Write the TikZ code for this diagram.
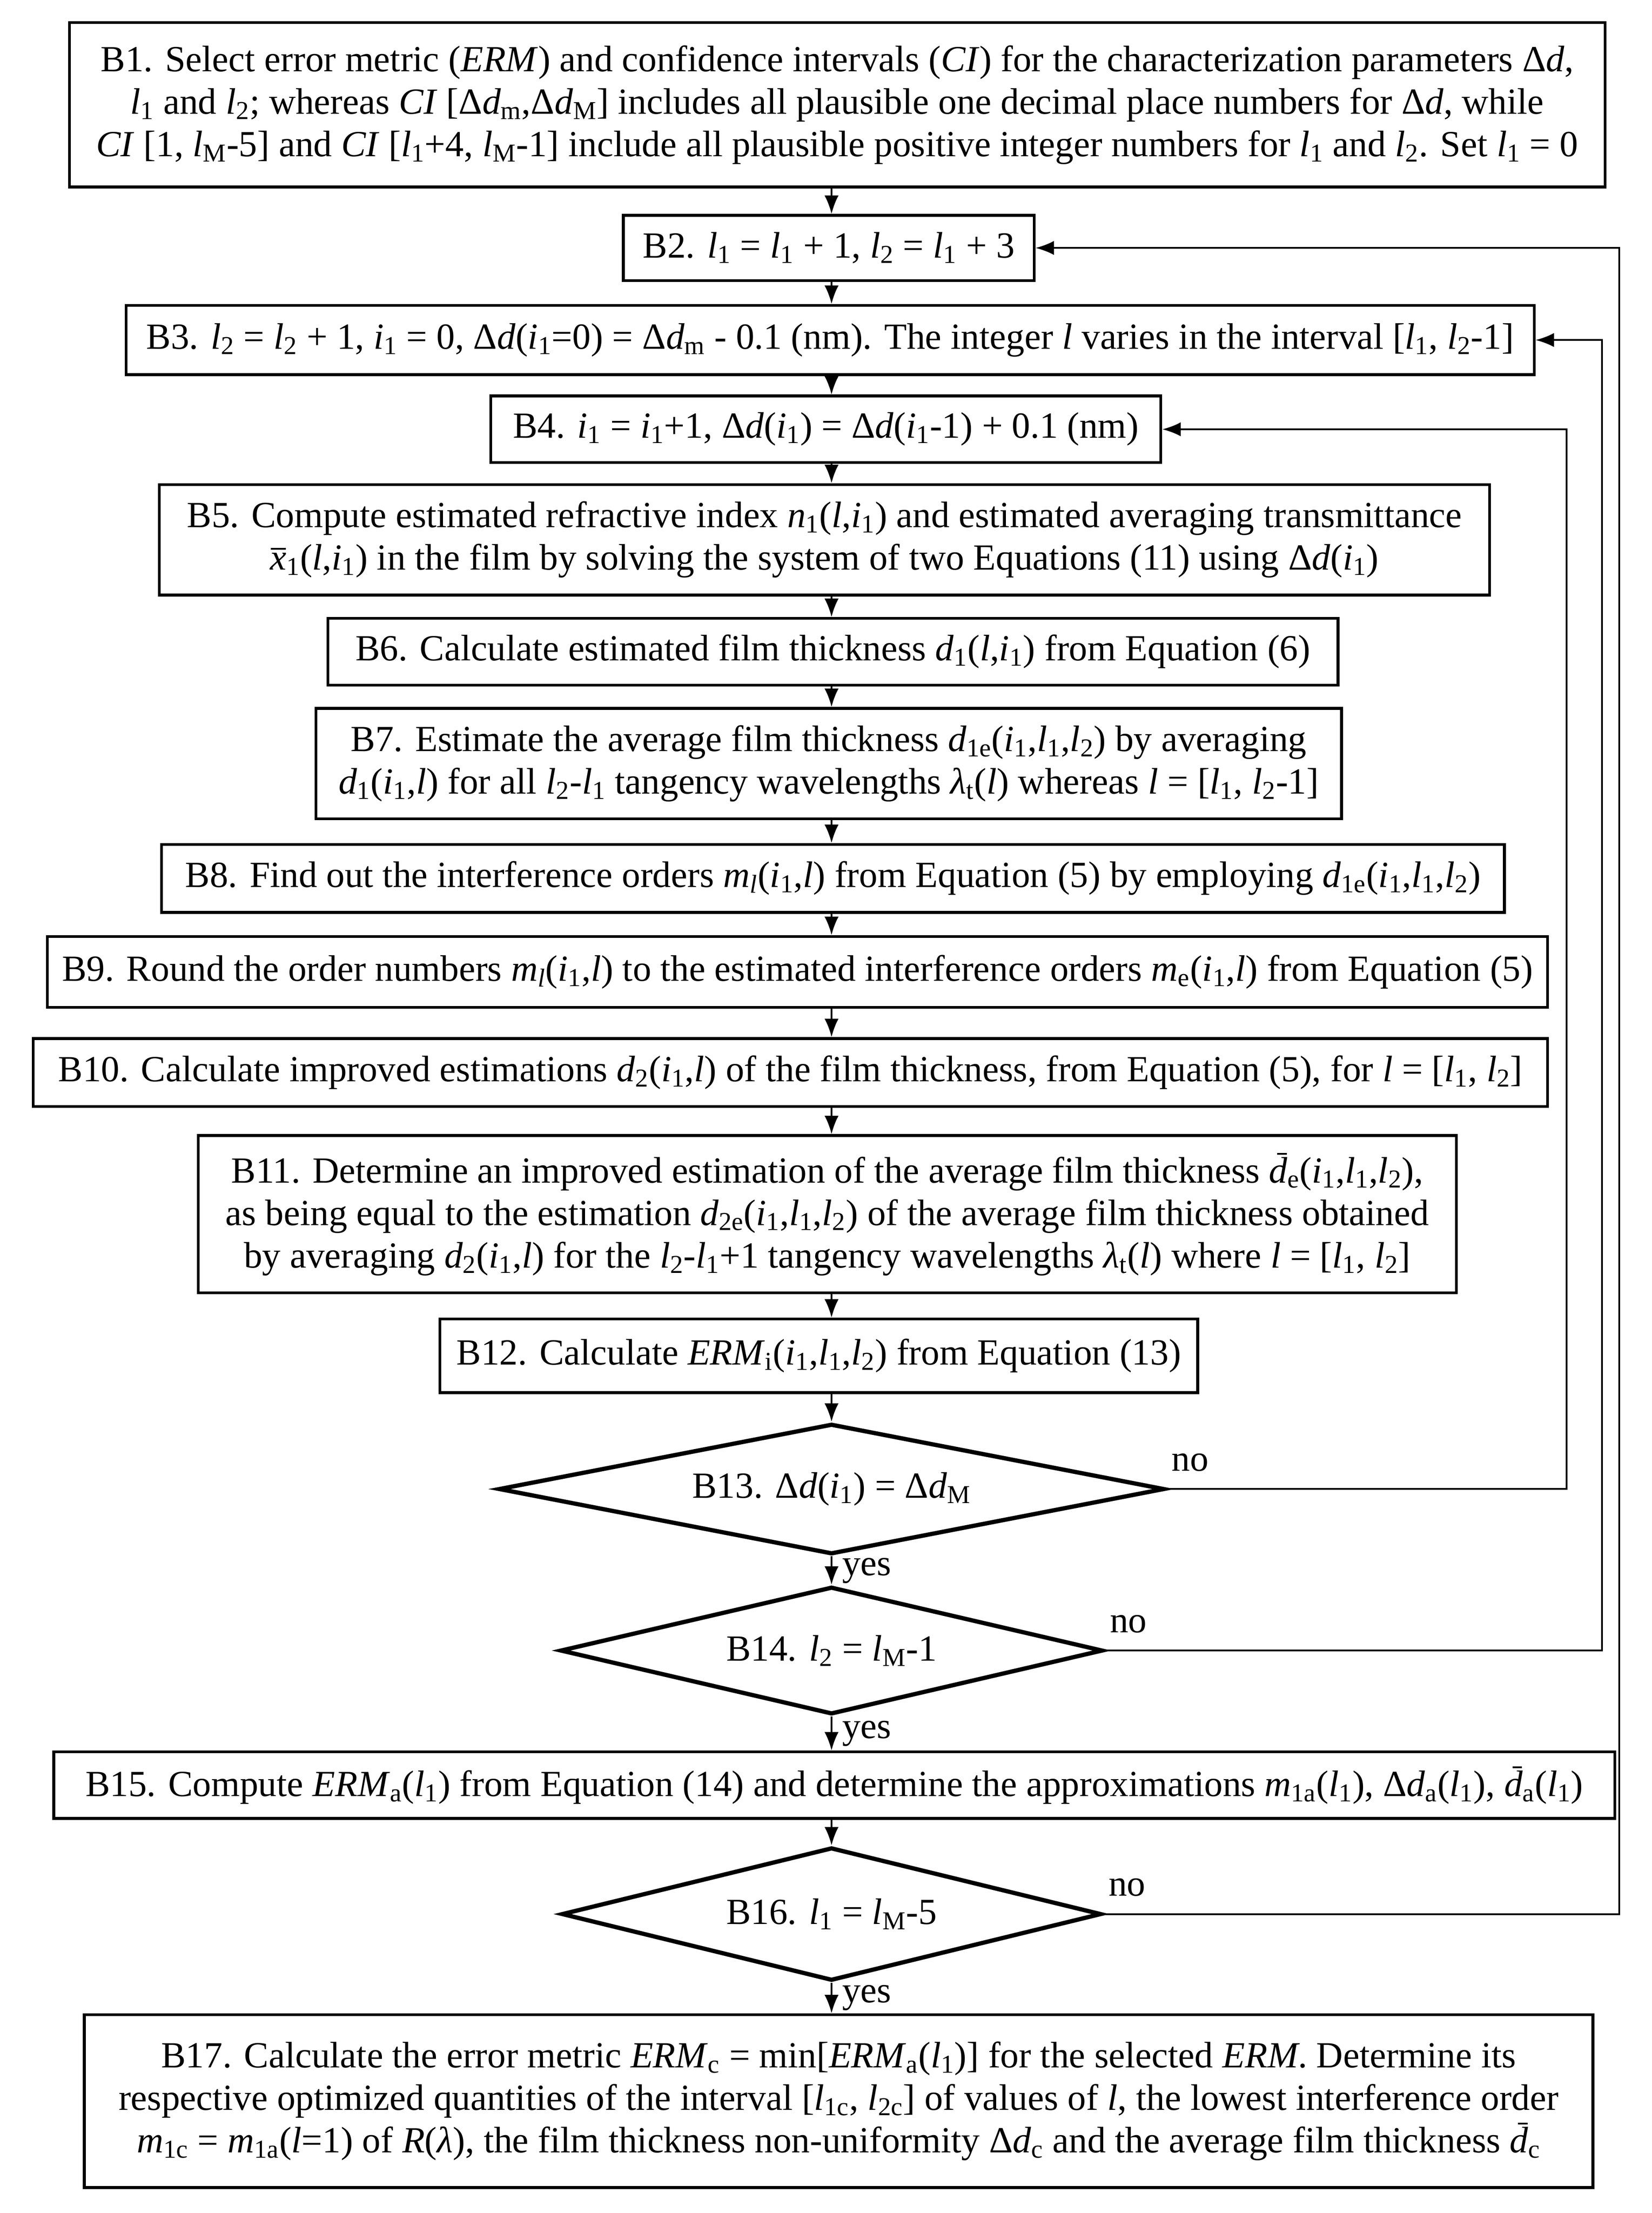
\documentclass[tikz,border=0pt]{standalone}
\usepackage{fontspec}
\setmainfont{Liberation Serif}
\usetikzlibrary{shapes.geometric, arrows.meta}

% variables of the flowchart
\newcommand{\lone}{\textit{l}\textsubscript{1}}
\newcommand{\ltwo}{\textit{l}\textsubscript{2}}
\newcommand{\lmax}{\textit{l}\textsubscript{M}}
\newcommand{\ione}{\textit{i}\textsubscript{1}}
\newcommand{\dmean}[1]{\textit{d}\llap{\rule[0.76em]{0.26em}{0.05em}\kern0.02em}\textsubscript{#1}}
\newcommand{\xmean}{\textit{x}\llap{\rule[0.55em]{0.4em}{0.05em}\kern0.02em}}

\begin{document}
\begin{tikzpicture}[
    x=1pt, y=-1pt,
    every node/.style={font={\fontsize{26}{30}\selectfont}},
    box/.style={draw, line width=2pt, align=center, inner sep=2pt},
    test/.style={draw, diamond, aspect=5, line width=3pt, inner sep=0pt},
    flow/.style={line width=1.2pt, -{Latex[length=13pt, width=10pt]}},
    answer/.style={inner xsep=3pt, inner ysep=12pt},
    yes/.style={right, inner xsep=7pt, inner ysep=2pt}
]
\fill[white] (0,0) rectangle (1166,1562);
\useasboundingbox (0,0) rectangle (1166,1562);
\coordinate (ax) at (587,0);
\coordinate (r4) at (1106,0);
\coordinate (r3) at (1131,0);
\coordinate (r2) at (1143,0);

\node[box, minimum width=1084pt, minimum height=116pt] (B1) at (591,74)
    {B1. Select error metric (\textit{ERM}) and confidence intervals (\textit{CI}) for the characterization parameters Δ\textit{d},\\
     \lone{} and \ltwo; whereas \textit{CI} [Δ\textit{d}\textsubscript{m},Δ\textit{d}\textsubscript{M}] includes all plausible one decimal place numbers for Δ\textit{d}, while\\
     \textit{CI} [1, \lmax-5] and \textit{CI} [\lone+4, \lmax-1] include all plausible positive integer numbers for \lone{} and \ltwo. Set \lone{} = 0};
\node[box, minimum width=290pt, minimum height=46pt] (B2) at (585,175)
    {B2. \lone{} = \lone{} + 1, \ltwo{} = \lone{} + 3};
\node[box, minimum width=994pt, minimum height=49pt] (B3) at (586,240)
    {B3. \ltwo{} = \ltwo{} + 1, \ione{} = 0, Δ\textit{d}(\ione=0) = Δ\textit{d}\textsubscript{m} - 0.1 (nm). The integer \textit{l} varies in the interval [\lone, \ltwo-1]};
\node[box, minimum width=473pt, minimum height=47pt] (B4) at (583,303)
    {B4. \ione{} = \ione+1, Δ\textit{d}(\ione) = Δ\textit{d}(\ione-1) + 0.1 (nm)};
\node[box, minimum width=939pt, minimum height=78pt] (B5) at (582,381)
    {B5. Compute estimated refractive index \textit{n}\textsubscript{1}(\textit{l},\ione) and estimated averaging transmittance\\
     \xmean\textsubscript{1}(\textit{l},\ione) in the film by solving the system of two Equations (11) using Δ\textit{d}(\ione)};
\node[box, minimum width=713pt, minimum height=47pt] (B6) at (588,460)
    {B6. Calculate estimated film thickness \textit{d}\textsubscript{1}(\textit{l},\ione) from Equation (6)};
\node[box, minimum width=724pt, minimum height=78pt] (B7) at (585,539)
    {B7. Estimate the average film thickness \textit{d}\textsubscript{1e}(\ione,\lone,\ltwo) by averaging\\
     \textit{d}\textsubscript{1}(\ione,\textit{l}) for all \ltwo-\lone{} tangency wavelengths \textit{λ}\textsubscript{t}(\textit{l}) whereas \textit{l} = [\lone, \ltwo-1]};
\node[box, minimum width=948pt, minimum height=48pt] (B8) at (588,620)
    {B8. Find out the interference orders \textit{m}\textsubscript{\textit{l}}(\ione,\textit{l}) from Equation (5) by employing \textit{d}\textsubscript{1e}(\ione,\lone,\ltwo)};
\node[box, minimum width=1059pt, minimum height=50pt] (B9) at (563,686)
    {B9. Round the order numbers \textit{m}\textsubscript{\textit{l}}(\ione,\textit{l}) to the estimated interference orders \textit{m}\textsubscript{e}(\ione,\textit{l}) from Equation (5)};
\node[box, minimum width=1069pt, minimum height=48pt] (B10) at (558,757)
    {B10. Calculate improved estimations \textit{d}\textsubscript{2}(\ione,\textit{l}) of the film thickness, from Equation (5), for \textit{l} = [\lone, \ltwo]};
\node[box, minimum width=888pt, minimum height=111pt] (B11) at (584,857)
    {B11. Determine an improved estimation of the average film thickness \dmean{e}(\ione,\lone,\ltwo),\\
     as being equal to the estimation \textit{d}\textsubscript{2e}(\ione,\lone,\ltwo) of the average film thickness obtained\\
     by averaging \textit{d}\textsubscript{2}(\ione,\textit{l}) for the \ltwo-\lone+1 tangency wavelengths \textit{λ}\textsubscript{t}(\textit{l}) where \textit{l} = [\lone, \ltwo]};
\node[box, minimum width=535pt, minimum height=52pt] (B12) at (578,957)
    {B12. Calculate \textit{ERM}\textsubscript{i}(\ione,\lone,\ltwo) from Equation (13)};
\node[test, minimum width=470pt, minimum height=92pt] (B13) at (587,1051)
    {B13. Δ\textit{d}(\ione) = Δ\textit{d}\textsubscript{M}};
\node[test, minimum width=383pt, minimum height=90pt] (B14) at (587,1165)
    {B14. \ltwo{} = \lmax-1};
\node[box, minimum width=1102pt, minimum height=47pt] (B15) at (589,1260)
    {B15. Compute \textit{ERM}\textsubscript{a}(\lone) from Equation (14) and determine the approximations \textit{m}\textsubscript{1a}(\lone), Δ\textit{d}\textsubscript{a}(\lone), \dmean{a}(\lone)};
\node[test, minimum width=381pt, minimum height=94pt] (B16) at (587,1351)
    {B16. \lone{} = \lmax-5};
\node[box, minimum width=1065pt, minimum height=122pt] (B17) at (592,1483)
    {B17. Calculate the error metric \textit{ERM}\textsubscript{c} = min[\textit{ERM}\textsubscript{a}(\lone)] for the selected \textit{ERM}. Determine its\\
     respective optimized quantities of the interval [\textit{l}\textsubscript{1c}, \textit{l}\textsubscript{2c}] of values of \textit{l}, the lowest interference order\\
     \textit{m}\textsubscript{1c} = \textit{m}\textsubscript{1a}(\textit{l}=1) of \textit{R}(\textit{λ}), the film thickness non-uniformity Δ\textit{d}\textsubscript{c} and the average film thickness \dmean{c}};

% main flow
\foreach \a/\b in {B1/B2, B2/B3, B3/B4, B4/B5, B5/B6, B6/B7, B7/B8, B8/B9,
                   B9/B10, B10/B11, B11/B12, B12/B13, B15/B16}
    \draw[flow] (\a.south -| ax) -- (\b.north -| ax);
\draw[flow] (B13.south) -- node[yes] {yes} (B14.north);
\draw[flow] (B14.south) -- node[yes] {yes} (B15.north -| ax);
\draw[flow] (B16.south) -- node[yes] {yes} (B17.north -| ax);

% loops back
\draw[flow] (B13.east) -- node[pos=0, above right, answer] {no} (B13.east -| r4) |- (B4.east);
\draw[flow] (B14.east) -- node[pos=0, above right, answer] {no} (B14.east -| r3) |- (B3.east);
\draw[flow] (B16.east) -- node[pos=0, above right, answer] {no} (B16.east -| r2) |- (B2.east);
\end{tikzpicture}
\end{document}
